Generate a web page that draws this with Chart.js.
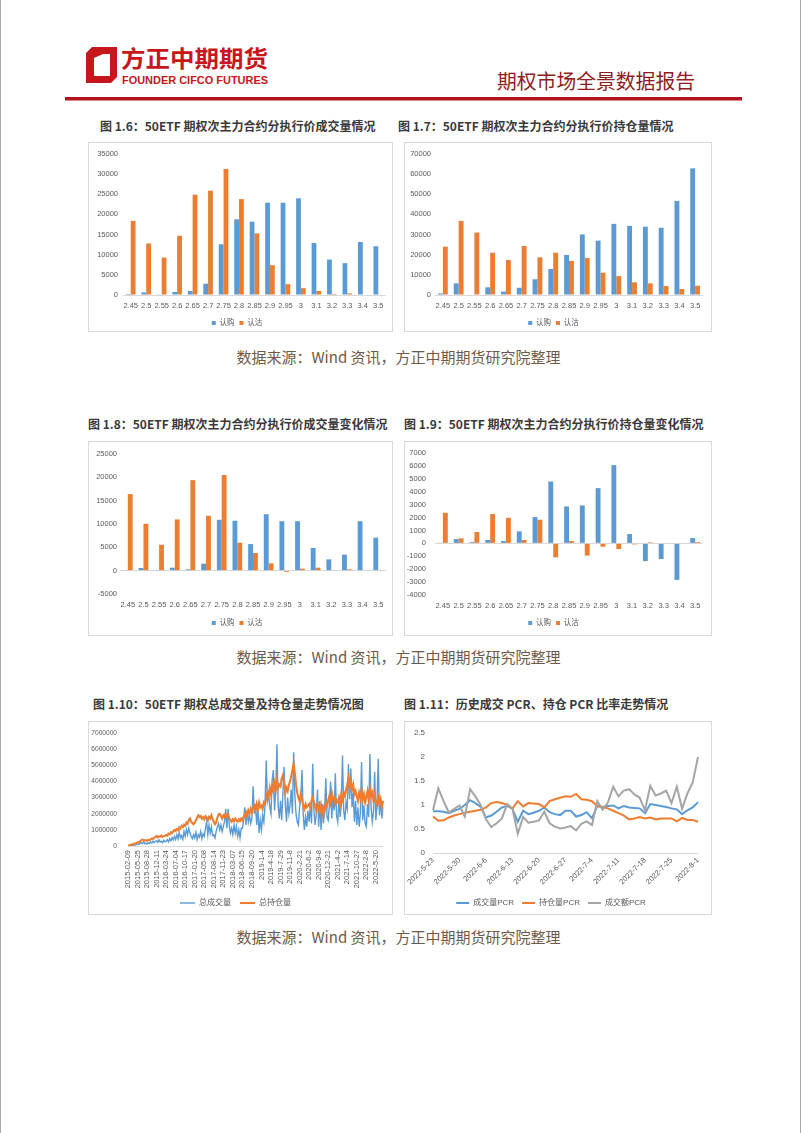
<!DOCTYPE html>
<html lang="zh-CN">
<head>
<meta charset="utf-8">
<title>期权市场全景数据报告</title>
<script src="https://cdn.jsdelivr.net/npm/chart.js@4.4.1/dist/chart.umd.min.js"></script>
<style>
  html, body { margin: 0; padding: 0; background: #fff; }
  #page { position: relative; width: 802px; height: 1133px; overflow: hidden; font-family: "Noto Sans CJK SC", sans-serif; }
  .edge { position: absolute; top: 0; width: 1px; height: 1133px; background: #a8a8a8; }
  .ttl { position: absolute; font-size: 12px; font-weight: bold; color: #3a3a3a; white-space: nowrap; line-height: 16px; }
  .src { position: absolute; left: 0; width: 797px; text-align: center; font-size: 15px; color: #6e5a48; line-height: 20px; }
  .box { position: absolute; border: 1px solid #d9d9d9; box-sizing: border-box; }
  .cv { position: absolute; }
</style>
</head>
<body>
<div id="page">
  <div class="edge" style="left:0"></div>
  <div class="edge" style="left:800px"></div>

  <svg style="position:absolute;left:0;top:0" width="802" height="110">
    <path d="M92,47 L117,47 L117,77 L111,83 L86,83 L86,53 Z" fill="#C8161D"/>
    <path d="M94,58 L103,54 L110,54 L110,76 L94,76 Z" fill="#fff"/>
    <text x="121" y="67" font-size="23" font-weight="bold" fill="#C8161D" font-family="Noto Sans CJK SC" textLength="147" lengthAdjust="spacingAndGlyphs">方正中期期货</text>
    <text x="122" y="84" font-size="11" font-weight="bold" fill="#C8161D" font-family="Liberation Sans" textLength="146" lengthAdjust="spacingAndGlyphs">FOUNDER CIFCO FUTURES</text>
    <text x="497" y="89" font-size="20" fill="#8F1C1F" font-family="Noto Sans CJK SC" textLength="198" lengthAdjust="spacingAndGlyphs">期权市场全景数据报告</text>
    <rect x="65" y="97" width="677" height="3.5" fill="#B3141C"/>
  </svg>

  <div class="ttl" style="left:100px;top:118px">图 1.6：50ETF 期权次主力合约分执行价成交量情况</div>
  <div class="ttl" style="left:398px;top:118px">图 1.7：50ETF 期权次主力合约分执行价持仓量情况</div>
  <div class="src" style="top:347px">数据来源：Wind 资讯，方正中期期货研究院整理</div>

  <div class="ttl" style="left:88px;top:416px">图 1.8：50ETF 期权次主力合约分执行价成交量变化情况</div>
  <div class="ttl" style="left:404px;top:416px">图 1.9：50ETF 期权次主力合约分执行价持仓量变化情况</div>
  <div class="src" style="top:647px">数据来源：Wind 资讯，方正中期期货研究院整理</div>

  <div class="ttl" style="left:93px;top:696px">图 1.10：50ETF 期权总成交量及持仓量走势情况图</div>
  <div class="ttl" style="left:404px;top:696px">图 1.11：历史成交 PCR、持仓 PCR 比率走势情况</div>
  <div class="src" style="top:927px">数据来源：Wind 资讯，方正中期期货研究院整理</div>
</div>

<script>
// strike prices shared by the four bar charts
const strikes = ['2.45', '2.5', '2.55', '2.6', '2.65', '2.7', '2.75', '2.8', '2.85', '2.9', '2.95', '3', '3.1', '3.2', '3.3', '3.4', '3.5'];

// 图1.6 成交量
const volCall = [250, 650, 80, 750, 1000, 2800, 12600, 18800, 18200, 22900, 22900, 24000, 12900, 8800, 7900, 13150, 12100];
const volPut = [18400, 12800, 9300, 14700, 24900, 25900, 31300, 23800, 15300, 7400, 2700, 1700, 1000, 250, 400, 0, 150];
// 图1.7 持仓量
const oiCall = [800, 5800, 300, 3800, 1700, 3600, 7800, 12900, 19900, 30100, 27000, 35300, 34300, 33900, 33400, 46700, 62900];
const oiPut = [24000, 36800, 31000, 21000, 17400, 24300, 18700, 21000, 16900, 18400, 11100, 9400, 6300, 5800, 4500, 3000, 4600];
// 图1.8 成交量变化
const volChgCall = [140, 570, 70, 640, 285, 1500, 10900, 10700, 5700, 12100, 10600, 10600, 4850, 2420, 3420, 10600, 7060];
const volChgPut = [16400, 10050, 5560, 10980, 19400, 11760, 20500, 5990, 3780, 1570, -285, 430, 640, 140, 285, 0, 140];
// 图1.9 持仓量变化
const oiChgCall = [50, 335, 100, 260, 180, 930, 2040, 4790, 2860, 2940, 4280, 6060, 720, -1370, -1210, -2830, 410];
const oiChgPut = [2370, 390, 880, 2270, 1980, 260, 1830, -1080, 180, -950, -260, -440, -80, 80, 0, 0, 100];

// 图1.10 总成交量 / 总持仓量 (8 samples between two date labels)
const tsTicks = ['2015-02-09', '2015-05-25', '2015-08-28', '2015-12-11', '2016-03-24', '2016-07-04', '2016-10-17',
  '2017-01-20', '2017-05-08', '2017-08-14', '2017-11-23', '2018-03-07', '2018-06-15', '2018-09-20', '2019-1-4',
  '2019-4-18', '2019-7-29', '2019-11-8', '2020-2-21', '2020-6-2', '2020-9-8', '2020-12-21', '2021-4-2',
  '2021-7-14', '2021-10-27', '2022-2-8', '2022-5-20'];
const totalVol = [
  10000, 20000, 30000, 50000, 40000, 70000, 60000, 90000,
  120000, 100000, 160000, 220000, 150000, 260000, 140000, 180000,
  120000, 200000, 150000, 260000, 180000, 300000, 220000, 280000,
  330000, 220000, 380000, 250000, 300000, 200000, 350000, 260000,
  280000, 400000, 260000, 450000, 320000, 520000, 380000, 600000,
  400000, 700000, 450000, 850000, 500000, 650000, 420000, 900000,
  600000, 1000000, 700000, 1100000, 800000, 600000, 450000, 700000,
  500000, 850000, 400000, 700000, 550000, 900000, 450000, 750000,
  600000, 1100000, 1500000, 700000, 1300000, 800000, 1200000, 650000,
  700000, 500000, 900000, 1200000, 1400000, 1000000, 1300000, 900000,
  1200000, 1500000, 2300000, 1100000, 2300000, 1300000, 800000, 1100000,
  700000, 1300000, 800000, 1200000, 600000, 1000000, 500000, 1100000,
  1100000, 1600000, 2400000, 1300000, 2200000, 1500000, 1900000, 1400000,
  1700000, 3700000, 2000000, 2600000, 1300000, 2300000, 800000, 1600000,
  1000000, 1900000, 1500000, 2500000, 5300000, 2800000, 3200000, 2400000,
  2000000, 4100000, 4700000, 2200000, 3500000, 6300000, 2500000, 1700000,
  2800000, 1600000, 3300000, 4900000, 2600000, 1500000, 3000000, 2000000,
  2500000, 3500000, 2000000, 5800000, 3200000, 2000000, 1500000, 1300000,
  2400000, 2900000, 4700000, 2000000, 1000000, 1800000, 1200000, 2200000,
  1500000, 2500000, 1400000, 5100000, 2200000, 1300000, 2000000, 3500000,
  1200000, 2800000, 1000000, 2600000, 1400000, 2200000, 4200000, 1800000,
  1600000, 2500000, 4000000, 1700000, 3000000, 2200000, 4500000, 1900000,
  1500000, 2800000, 1800000, 2500000, 5600000, 2200000, 1600000, 2700000,
  2300000, 5100000, 2900000, 4800000, 2400000, 3300000, 1500000, 2800000,
  1300000, 2400000, 1200000, 2000000, 5200000, 1600000, 2500000, 1400000,
  1200000, 2600000, 1800000, 5700000, 2400000, 1500000, 2100000, 4600000,
  1600000, 2700000, 5400000, 1900000, 2900000, 1700000, 2400000
];
const totalOi = [
  20000, 40000, 60000, 90000, 110000, 140000, 160000, 190000,
  210000, 250000, 280000, 340000, 400000, 380000, 330000, 360000,
  320000, 380000, 350000, 420000, 470000, 440000, 520000, 560000,
  620000, 540000, 600000, 580000, 650000, 560000, 610000, 640000,
  680000, 640000, 760000, 720000, 850000, 800000, 920000, 1000000,
  940000, 1050000, 980000, 1150000, 1080000, 1250000, 1180000, 1320000,
  1250000, 1450000, 1380000, 1620000, 1700000, 1500000, 1420000, 1350000,
  1450000, 1600000, 1750000, 1900000, 1800000, 1850000, 1700000, 1780000,
  1650000, 1850000, 1750000, 1600000, 1800000, 1700000, 1900000, 1650000,
  1500000, 1350000, 1450000, 1750000, 1950000, 2000000, 1850000, 1700000,
  1900000, 1800000, 2000000, 1850000, 1950000, 1700000, 1600000, 1500000,
  1650000, 1550000, 1700000, 1600000, 1500000, 1650000, 1550000, 1700000,
  1600000, 1800000, 1900000, 2100000, 1850000, 2200000, 2000000, 2300000,
  2100000, 2400000, 2500000, 2200000, 2600000, 2300000, 2700000, 2400000,
  2500000, 2300000, 2700000, 2600000, 3000000, 3300000, 3100000, 3600000,
  3200000, 3700000, 3400000, 3900000, 3500000, 4100000, 3600000, 3800000,
  3700000, 4200000, 4400000, 3900000, 3300000, 3600000, 3400000, 3800000,
  4000000, 4300000, 4700000, 5100000, 4500000, 3800000, 3300000, 3000000,
  2800000, 3200000, 2900000, 2500000, 2300000, 2600000, 2400000, 2500000,
  2600000, 2400000, 2800000, 3000000, 2700000, 2500000, 2200000, 2600000,
  2300000, 2100000, 2500000, 2000000, 2400000, 2200000, 2700000, 2500000,
  2800000, 3100000, 2700000, 3300000, 2900000, 3000000, 2600000, 2800000,
  2700000, 3000000, 2600000, 3200000, 2900000, 3300000, 3100000, 3500000,
  3800000, 4200000, 3600000, 4000000, 3500000, 3800000, 3200000, 3400000,
  3100000, 2800000, 3300000, 3000000, 3500000, 2900000, 3200000, 2700000,
  3000000, 3400000, 2900000, 3600000, 3100000, 3300000, 2800000, 3200000,
  2700000, 2500000, 3000000, 2600000, 2900000, 2400000, 2800000
];

// 图1.11 PCR (5 trading days between two date labels)
const pcrTicks = ['2022-5-23', '2022-5-30', '2022-6-6', '2022-6-13', '2022-6-20', '2022-6-27', '2022-7-4', '2022-7-11', '2022-7-18', '2022-7-25', '2022-8-1'];
const pcrVol = [0.87, 0.87, 0.86, 0.83, 0.88, 0.92, 1.00, 1.10, 1.04, 0.96,
  0.74, 0.78, 0.86, 0.95, 0.98, 0.92, 0.65, 0.88, 0.81, 0.84,
  0.88, 0.95, 0.85, 0.81, 0.79, 0.88, 0.88, 0.76, 0.79, 0.85,
  0.72, 0.98, 0.96, 0.98, 0.99, 0.93, 0.98, 0.95, 0.94, 0.93,
  0.83, 1.02, 1.00, 0.98, 0.96, 0.93, 0.91, 0.81, 0.89, 0.95, 1.06];
const pcrOi = [0.76, 0.67, 0.68, 0.74, 0.78, 0.81, 0.84, 0.86, 0.88, 0.90,
  0.95, 1.04, 1.06, 1.04, 1.00, 0.93, 1.08, 0.97, 1.04, 1.03,
  1.02, 0.95, 1.08, 1.12, 1.15, 1.18, 1.17, 1.23, 1.12, 1.11,
  1.08, 0.98, 0.96, 0.93, 0.88, 0.83, 0.78, 0.70, 0.72, 0.75,
  0.72, 0.74, 0.70, 0.72, 0.72, 0.72, 0.66, 0.73, 0.69, 0.69, 0.65];
const pcrAmt = [0.89, 1.35, 1.08, 0.84, 0.92, 0.99, 0.76, 1.33, 1.18, 1.00,
  0.70, 0.54, 0.62, 0.72, 1.02, 0.92, 0.40, 0.75, 0.63, 0.65,
  0.68, 0.86, 0.62, 0.55, 0.51, 0.53, 0.56, 0.47, 0.61, 0.66,
  0.58, 1.08, 0.90, 1.05, 1.38, 1.18, 1.30, 1.33, 1.22, 1.15,
  0.89, 1.40, 1.20, 1.24, 1.30, 1.04, 1.38, 0.92, 1.24, 1.47, 2.00];

const BLUE = '#5B9BD5', ORANGE = '#ED7D31', GRAY = '#A5A5A5';

Chart.defaults.font.family = "'Liberation Sans', 'Noto Sans CJK SC', sans-serif";
Chart.defaults.font.size = 7.5;
Chart.defaults.color = '#595959';
Chart.defaults.animation = false;
Chart.defaults.plugins.tooltip.enabled = false;

const page = document.getElementById('page');
const zeroLine = (c) => (c.tick.value === 0 ? '#d9d9d9' : 'rgba(0,0,0,0)');

function sparseLabels(ticks, n, every) {
  const out = [];
  for (let i = 0; i < n; i++) out.push(i % every === 0 ? ticks[i / every] : '');
  return out;
}

// box = bordered frame on the page, lay = where plot / legend sit inside it
function mount(box, lay, cfg) {
  const f = lay.legendFont;
  const legendBottom = lay.legendY + f / 2 + 10;
  const h = Math.ceil(legendBottom) + 1;
  const xh = lay.legendY - lay.legendPad - f / 2 - lay.plotBottom;

  const frame = document.createElement('div');
  frame.className = 'box';
  Object.assign(frame.style, { left: box.x + 'px', top: box.y + 'px', width: box.w + 'px', height: box.h + 'px' });
  page.appendChild(frame);

  const wrap = document.createElement('div');
  wrap.className = 'cv';
  Object.assign(wrap.style, { left: box.x + 'px', top: box.y + 'px', width: box.w + 'px', height: h + 'px' });
  const cv = document.createElement('canvas');
  cv.width = box.w;
  cv.height = h;
  wrap.appendChild(cv);
  page.appendChild(wrap);

  const o = cfg.options;
  o.responsive = false;
  o.layout = { padding: { top: lay.padTop, right: lay.padRight, bottom: h - legendBottom, left: 0 } };
  o.scales.x.afterFit = (s) => { s.height = xh; s.paddingLeft = 0; s.paddingRight = 0; };
  o.scales.y.afterFit = (s) => { s.width = lay.yw; s.paddingTop = 0; s.paddingBottom = 0; };
  o.plugins.legend.labels.padding = lay.legendPad;
  o.plugins.legend.labels.font = { size: f };
  return new Chart(cv, cfg);
}

function barConfig(call, put, min, max, step, yPad) {
  return {
    type: 'bar',
    data: {
      labels: strikes,
      datasets: [
        { label: '认购', data: call, backgroundColor: BLUE, categoryPercentage: 0.62, barPercentage: 1 },
        { label: '认沽', data: put, backgroundColor: ORANGE, categoryPercentage: 0.62, barPercentage: 1 }
      ]
    },
    options: {
      scales: {
        x: { grid: { display: false, drawTicks: false }, border: { display: false },
             ticks: { autoSkip: false, maxRotation: 0, padding: 6 } },
        y: { min, max, grid: { color: zeroLine, drawTicks: false }, border: { display: false },
             ticks: { stepSize: step, padding: yPad, callback: (v) => String(v) } }
      },
      plugins: { legend: { position: 'bottom', labels: { boxWidth: 4, boxHeight: 4 } } }
    }
  };
}

mount({ x: 88, y: 142, w: 305, h: 190 },
  { yw: 35, padTop: 12, padRight: 7, plotBottom: 153, legendY: 181, legendPad: 5, legendFont: 7.5 },
  barConfig(volCall, volPut, 0, 35000, 5000, 5));

mount({ x: 404, y: 142, w: 308, h: 190 },
  { yw: 31, padTop: 12, padRight: 9, plotBottom: 153, legendY: 181, legendPad: 5, legendFont: 7.5 },
  barConfig(oiCall, oiPut, 0, 70000, 10000, 4));

mount({ x: 88, y: 441, w: 305, h: 195 },
  { yw: 32, padTop: 13, padRight: 7, plotBottom: 153, legendY: 182, legendPad: 5, legendFont: 7.5 },
  barConfig(volChgCall, volChgPut, -5000, 25000, 5000, 3));

mount({ x: 404, y: 441, w: 308, h: 195 },
  { yw: 31, padTop: 12, padRight: 9, plotBottom: 154, legendY: 182, legendPad: 5, legendFont: 7.5 },
  barConfig(oiChgCall, oiChgPut, -4000, 7000, 1000, 9));

mount({ x: 88, y: 721, w: 305, h: 194 },
  { yw: 40, padTop: 12, padRight: 10, plotBottom: 125, legendY: 182, legendPad: 9, legendFont: 8 },
  {
    type: 'line',
    data: {
      labels: sparseLabels(tsTicks, totalVol.length, 8),
      datasets: [
        { label: '总成交量', data: totalVol, borderColor: BLUE, backgroundColor: BLUE, borderWidth: 1.4, pointRadius: 0, order: 1 },
        { label: '总持仓量', data: totalOi, borderColor: ORANGE, backgroundColor: ORANGE, borderWidth: 2.1, pointRadius: 0, order: 0 }
      ]
    },
    options: {
      scales: {
        x: { offset: false, grid: { display: false, drawTicks: false }, border: { display: false },
             ticks: { autoSkip: false, minRotation: 90, maxRotation: 90, padding: 4 } },
        y: { min: 0, max: 7000000, grid: { color: zeroLine, drawTicks: false }, border: { display: false },
             ticks: { stepSize: 1000000, padding: 11, font: { size: 6.6 }, callback: (v) => String(v) } }
      },
      plugins: { legend: { position: 'bottom', reverse: true, labels: { usePointStyle: true, pointStyle: 'line', pointStyleWidth: 15 } } }
    }
  });

mount({ x: 404, y: 721, w: 308, h: 194 },
  { yw: 29, padTop: 12, padRight: 14, plotBottom: 132, legendY: 182, legendPad: 8, legendFont: 8 },
  {
    type: 'line',
    data: {
      labels: sparseLabels(pcrTicks, pcrVol.length, 5),
      datasets: [
        { label: '成交量PCR', data: pcrVol, borderColor: BLUE, backgroundColor: BLUE, borderWidth: 2, pointRadius: 0, order: 2 },
        { label: '持仓量PCR', data: pcrOi, borderColor: ORANGE, backgroundColor: ORANGE, borderWidth: 2, pointRadius: 0, order: 1 },
        { label: '成交额PCR', data: pcrAmt, borderColor: GRAY, backgroundColor: GRAY, borderWidth: 2, pointRadius: 0, order: 0 }
      ]
    },
    options: {
      scales: {
        x: { offset: false, grid: { display: false, drawTicks: false }, border: { display: false },
             ticks: { autoSkip: false, minRotation: 45, maxRotation: 45, padding: 3 } },
        y: { min: 0, max: 2.5, grid: { color: zeroLine, drawTicks: false }, border: { display: false },
             ticks: { stepSize: 0.5, padding: 8, font: { size: 8 }, callback: (v) => String(v) } }
      },
      plugins: { legend: { position: 'bottom', reverse: true, labels: { usePointStyle: true, pointStyle: 'line', pointStyleWidth: 13 } } }
    }
  });
</script>
</body>
</html>
